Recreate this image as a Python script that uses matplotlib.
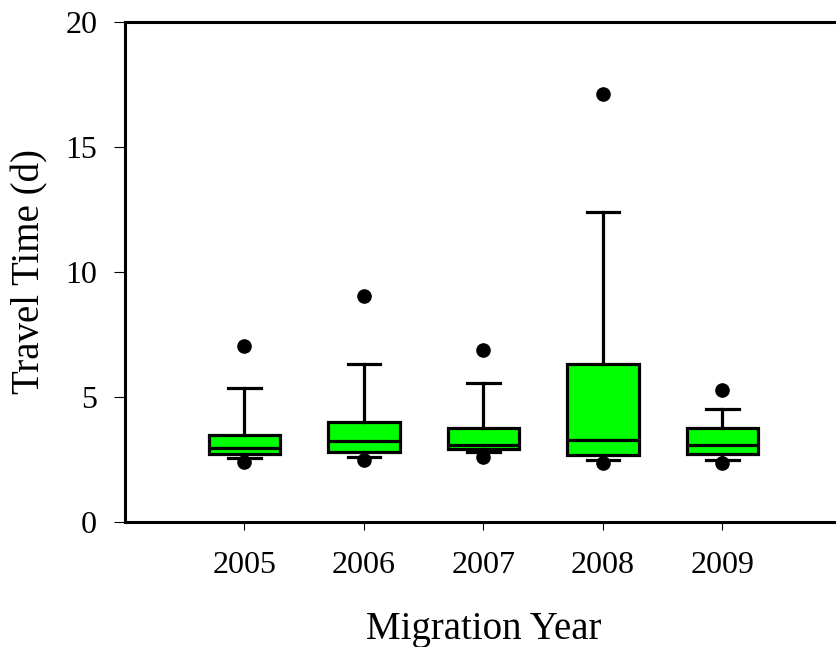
import matplotlib
matplotlib.use("Agg")
import matplotlib.pyplot as plt

# values (days)
years = ["2005", "2006", "2007", "2008", "2009"]
q1 = [2.72, 2.80, 2.94, 2.68, 2.72]
med = [2.95, 3.24, 3.08, 3.28, 3.10]
q3 = [3.48, 4.00, 3.78, 6.32, 3.76]
whislo = [2.56, 2.60, 2.80, 2.48, 2.48]
whishi = [5.36, 6.32, 5.56, 12.40, 4.52]
fliers = [[7.04, 2.42], [9.04, 2.48], [6.88, 2.60], [17.12, 2.36], [5.28, 2.36]]

plt.rcParams['font.family'] = ['Liberation Serif', 'DejaVu Serif']

fig = plt.figure(figsize=(8.37, 6.47), dpi=100)
ax = fig.add_axes([125/837, 125/647, 717/837, 500/647])

stats = []
for i in range(len(years)):
    stats.append(dict(label=years[i], q1=q1[i], med=med[i], q3=q3[i],
                      whislo=whislo[i], whishi=whishi[i], fliers=fliers[i]))

lw = 2.3
ax.bxp(stats, positions=range(1, 6), widths=0.6, patch_artist=True,
       showfliers=True,
       boxprops=dict(facecolor='#00ff00', edgecolor='black', linewidth=lw),
       medianprops=dict(color='black', linewidth=lw),
       whiskerprops=dict(color='black', linewidth=lw),
       capprops=dict(color='black', linewidth=lw),
       capwidths=0.27,
       flierprops=dict(marker='o', markerfacecolor='black',
                       markeredgecolor='black', markersize=9.5))

ax.set_xlim(0, 6)
ax.set_ylim(0, 20)
ax.set_yticks([0, 5, 10, 15, 20])
ax.set_xticks(range(1, 6))
ax.set_xticklabels(years)

for s in ax.spines.values():
    s.set_linewidth(2.2)

ax.tick_params(axis='both', direction='out', width=0.8, labelsize=23)
ax.tick_params(axis='x', length=6, pad=15)
ax.tick_params(axis='y', length=8, pad=12)

ax.set_xlabel("Migration Year", fontsize=28, labelpad=22)
ax.set_ylabel("Travel Time (d)", fontsize=28, labelpad=12)

fig.savefig("out.png", dpi=100)
